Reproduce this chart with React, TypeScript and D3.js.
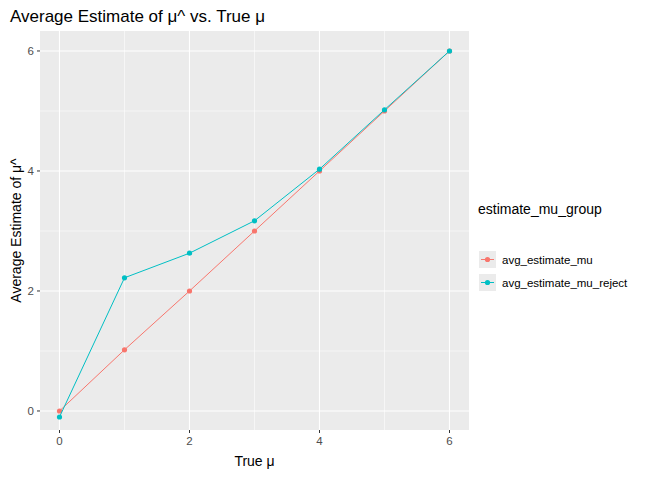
import * as d3 from 'd3';

const trueMu = [0, 1, 2, 3, 4, 5, 6];
const avgEstimateMu = [0.0, 1.02, 2.0, 3.0, 4.0, 5.0, 6.0];
const avgEstimateMuReject = [-0.1, 2.22, 2.63, 3.17, 4.03, 5.02, 6.0];
const seriesNames = ['avg_estimate_mu', 'avg_estimate_mu_reject'];
const seriesColors = ['#F8766D', '#00BFC4'];
const ticks = [0, 2, 4, 6];
const minorTicks = [1, 3, 5];

export default function App() {
  const W = 672, H = 480;
  const left = 40, right = 469, top = 31, bottom = 430;
  const x = d3.scaleLinear().domain([-0.3, 6.3]).range([left, right]);
  const y = d3.scaleLinear().domain([-0.317, 6.333]).range([bottom, top]);
  const line = d3.line<number>().x((_, i) => x(trueMu[i])).y((d) => y(d));
  const series = [avgEstimateMu, avgEstimateMuReject];
  const font = 'Liberation Sans, Arial, sans-serif';

  return (
    <svg width={W} height={H} style={{ position: 'absolute', left: 0, top: 0 }} fontFamily={font}>
      <rect width={W} height={H} fill="#fff" />
      <rect x={left} y={top} width={right - left} height={bottom - top} fill="#EBEBEB" />
      {minorTicks.map((t) => (
        <g key={'m' + t}>
          <line x1={x(t)} x2={x(t)} y1={top} y2={bottom} stroke="#fff" strokeWidth={0.55} />
          <line x1={left} x2={right} y1={y(t)} y2={y(t)} stroke="#fff" strokeWidth={0.55} />
        </g>
      ))}
      {ticks.map((t) => (
        <g key={t}>
          <line x1={x(t)} x2={x(t)} y1={top} y2={bottom} stroke="#fff" strokeWidth={1.1} />
          <line x1={left} x2={right} y1={y(t)} y2={y(t)} stroke="#fff" strokeWidth={1.1} />
          <line x1={x(t)} x2={x(t)} y1={bottom} y2={bottom + 3} stroke="#333" />
          <line x1={left - 3} x2={left} y1={y(t)} y2={y(t)} stroke="#333" />
          <text x={x(t)} y={bottom + 15} textAnchor="middle" fontSize={11.5} fill="#4D4D4D">{t}</text>
          <text x={left - 6} y={y(t) + 4} textAnchor="end" fontSize={11.5} fill="#4D4D4D">{t}</text>
        </g>
      ))}
      {series.map((s, k) => (
        <g key={k}>
          <path d={line(s) ?? ''} fill="none" stroke={seriesColors[k]} strokeWidth={1} />
          {s.map((v, i) => (
            <circle key={i} cx={x(trueMu[i])} cy={y(v)} r={2.6} fill={seriesColors[k]} />
          ))}
        </g>
      ))}
      <text x={10} y={22} fontSize={17} fill="#000">Average Estimate of μ^ vs. True μ</text>
      <text x={(left + right) / 2} y={466} textAnchor="middle" fontSize={14} fill="#000">True μ</text>
      <text transform={`translate(21,${(top + bottom) / 2}) rotate(-90)`} textAnchor="middle" fontSize={14} fill="#000">Average Estimate of μ^</text>
      <text x={478} y={214} fontSize={14} fill="#000">estimate_mu_group</text>
      {seriesNames.map((n, k) => (
        <g key={n} transform={`translate(479,${251 + k * 23})`}>
          <rect width={17} height={17} fill="#EBEBEB" />
          <line x1={2} x2={15} y1={8.5} y2={8.5} stroke={seriesColors[k]} />
          <circle cx={8.5} cy={8.5} r={2.6} fill={seriesColors[k]} />
          <text x={23} y={13} fontSize={11.5} fill="#000">{n}</text>
        </g>
      ))}
    </svg>
  );
}
